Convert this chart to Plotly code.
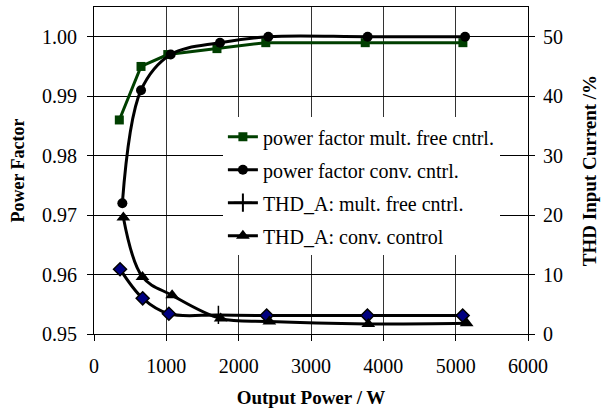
import plotly.graph_objects as go

# ---- data ----
pf_mult_x = [350, 650, 1020, 1700, 2375, 3750, 5100]
pf_mult_y = [0.986, 0.995, 0.997, 0.998, 0.999, 0.999, 0.999]

pf_conv_x = [392, 650, 1060, 1742, 2410, 3783, 5130]
pf_conv_y = [0.972, 0.991, 0.997, 0.999, 1.000, 1.000, 1.000]

thd_mult_x = [360, 673, 1035, 1720, 2387, 3780, 5097]
thd_mult_y = [10.9, 6.0, 3.4, 3.2, 3.1, 3.1, 3.1]
thd_mult_symbols = ["diamond", "diamond", "diamond", "cross-thin", "diamond", "diamond", "diamond"]

thd_conv_x = [406, 670, 1080, 1751, 2424, 3792, 5152]
thd_conv_y = [19.6, 9.6, 6.5, 2.6, 2.1, 1.7, 1.8]

names = ["power factor mult. free cntrl.", "power factor conv. cntrl.",
         "THD_A: mult. free cntrl.", "THD_A: conv. control"]

x_ticks = [0, 1000, 2000, 3000, 4000, 5000, 6000]
y_left_ticks = [0.95, 0.96, 0.97, 0.98, 0.99, 1.00]
y_right_ticks = [0, 10, 20, 30, 40, 50]

FONT = "Liberation Serif"
GREEN = "#003f00"
NAVY = "#000080"

fig = go.Figure()

fig.add_trace(go.Scatter(
    x=pf_mult_x, y=pf_mult_y, name=names[0], legendgroup="a",
    mode="lines+markers", line=dict(color=GREEN, width=3),
    marker=dict(symbol="square", size=9, color=GREEN)))

fig.add_trace(go.Scatter(
    x=pf_conv_x, y=pf_conv_y, name=names[1], legendgroup="b",
    mode="lines+markers", line=dict(color="black", width=3, shape="spline"),
    marker=dict(symbol="circle", size=10, color="black")))

# THD mult (plotted) – legend entry drawn by a placeholder trace with the series marker
fig.add_trace(go.Scatter(
    x=thd_mult_x, y=thd_mult_y, name=names[2], legendgroup="c", showlegend=False,
    yaxis="y2", mode="lines+markers", line=dict(color="black", width=3, shape="spline"),
    opacity=1,
    marker=dict(symbol=thd_mult_symbols, size=[10, 10, 10, 13, 10, 10, 10], color=NAVY, opacity=1,
                line=dict(color="black", width=1.5))))
fig.add_trace(go.Scatter(
    x=[None], y=[None], name=names[2], legendgroup="c", yaxis="y2",
    mode="lines+markers", line=dict(color="black", width=3),
    marker=dict(symbol="cross-thin", size=13, color="black", line=dict(color="black", width=2))))

fig.add_trace(go.Scatter(
    x=thd_conv_x, y=thd_conv_y, name=names[3], legendgroup="d",
    yaxis="y2", mode="lines+markers", line=dict(color="black", width=3, shape="spline"),
    marker=dict(symbol="triangle-up", size=12, color="black")))

axis_common = dict(showline=True, linecolor="black", linewidth=1, ticks="outside",
                   ticklen=6, tickcolor="black", zeroline=False, automargin=False,
                   tickfont=dict(family=FONT, size=20, color="black"))

fig.update_layout(
    width=616, height=409,
    margin=dict(l=94, r=88, t=7, b=75),
    paper_bgcolor="white", plot_bgcolor="white",
    font=dict(family=FONT, color="black"),
    xaxis=dict(range=[0, 6000], tickvals=x_ticks, ticktext=[str(v) for v in x_ticks],
               showgrid=True, gridcolor="#333333", gridwidth=1, mirror=True,
               ticklabelstandoff=8,
               title=dict(text="<b>Output Power / W</b>", font=dict(family=FONT, size=19), standoff=14),
               **axis_common),
    yaxis=dict(range=[0.95, 1.005], tickvals=y_left_ticks,
               ticktext=["%.2f" % v for v in y_left_ticks],
               showgrid=True, gridcolor="black", gridwidth=1,
               ticklabelstandoff=6,
               title=dict(text="<b>Power Factor</b>", font=dict(family=FONT, size=18), standoff=12),
               **axis_common),
    yaxis2=dict(range=[0, 55], tickvals=y_right_ticks, ticktext=[str(v) for v in y_right_ticks],
                overlaying="y", side="right", showgrid=False, ticklabelstandoff=4,
                title=dict(text="<b>THD Input Current /%</b>", font=dict(family=FONT, size=19), standoff=20),
                **axis_common),
    legend=dict(x=0.297, y=0.663, xanchor="left", yanchor="top",
                bgcolor="white", borderwidth=0, tracegroupgap=4,
                font=dict(family=FONT, size=20, color="black")),
    showlegend=True,
    # white panel behind the legend that masks the gridlines (drawn under the traces)
    shapes=[dict(type="rect", xref="paper", yref="paper", x0=0.164, x1=1.0, y0=0.251, y1=0.661,
                 fillcolor="white", line=dict(width=0), layer="between")],
)

fig.write_html("out.html", config={"displayModeBar": False},
               post_script="document.body.style.margin='0';")
